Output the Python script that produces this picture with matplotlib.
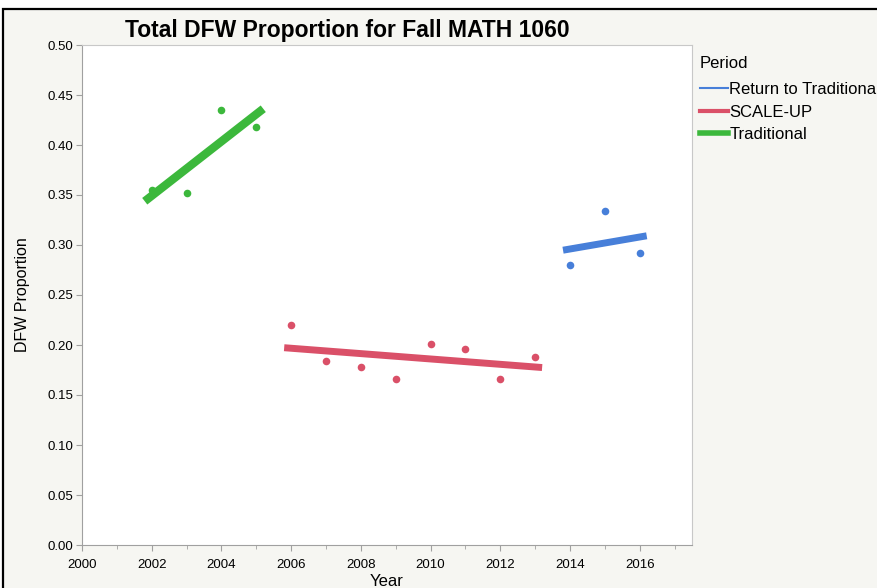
import numpy as np
import matplotlib.pyplot as plt
from matplotlib.patches import Rectangle
from matplotlib.lines import Line2D
from matplotlib.ticker import MultipleLocator, FormatStrFormatter

plt.rcParams['font.family'] = ['Liberation Sans', 'DejaVu Sans']

# data
trad_years = [2002, 2003, 2004, 2005]
trad_dfw = [0.355, 0.352, 0.435, 0.418]
scale_years = [2006, 2007, 2008, 2009, 2010, 2011, 2012, 2013]
scale_dfw = [0.220, 0.184, 0.178, 0.166, 0.201, 0.196, 0.166, 0.188]
ret_years = [2014, 2015, 2016]
ret_dfw = [0.280, 0.334, 0.292]

c_green = '#3cb83c'
c_red = '#da5068'
c_blue = '#477fd9'

fig = plt.figure(figsize=(8.77, 5.88), dpi=100, facecolor='white')
# panel background with black frame
fig.patches.append(Rectangle((3 / 877, -0.01), 1.0, (588 - 9) / 588 + 0.01,
                             transform=fig.transFigure, facecolor='#f6f6f2',
                             edgecolor='black', linewidth=1.6, zorder=-10))

ax = fig.add_axes([82 / 877, 1 - 545 / 588, 610 / 877, 500 / 588])
ax.set_facecolor('white')


def fit_line(years, vals, color, lw):
    k, b = np.polyfit(years, vals, 1)
    xs = np.array([min(years) - 0.2, max(years) + 0.2])
    ax.plot(xs, k * xs + b, color=color, linewidth=lw, solid_capstyle='butt', zorder=2)


ax.scatter(trad_years, trad_dfw, color=c_green, s=30, zorder=3, linewidths=0)
ax.scatter(scale_years, scale_dfw, color=c_red, s=30, zorder=3, linewidths=0)
ax.scatter(ret_years, ret_dfw, color=c_blue, s=30, zorder=3, linewidths=0)
fit_line(trad_years, trad_dfw, c_green, 6)
fit_line(scale_years, scale_dfw, c_red, 5)
fit_line(ret_years, ret_dfw, c_blue, 5)

ax.set_xlim(2000, 2017.5)
ax.set_ylim(0, 0.5)
ax.xaxis.set_major_locator(MultipleLocator(2))
ax.xaxis.set_minor_locator(MultipleLocator(1))
ax.yaxis.set_major_locator(MultipleLocator(0.05))
ax.yaxis.set_major_formatter(FormatStrFormatter('%.2f'))
ax.tick_params(axis='both', which='both', direction='out', color='#a0a0a0', labelsize=9.5)
ax.tick_params(axis='both', which='major', length=4)
ax.tick_params(axis='x', which='minor', length=3)
ax.tick_params(axis='x', pad=6)
ax.tick_params(axis='y', pad=2)
for s in ax.spines.values():
    s.set_color('#c8c8c8')
ax.spines['left'].set_color('#a0a0a0')
ax.spines['bottom'].set_color('#a0a0a0')

ax.set_xlabel('Year', fontsize=12, labelpad=2)
ax.set_ylabel('DFW Proportion', fontsize=11.5, labelpad=13)
fig.text(347 / 877, 1 - 30 / 588, 'Total DFW Proportion for Fall MATH 1060',
         ha='center', va='center', fontsize=16.5, fontweight='bold')

handles = [Line2D([], [], color=c_blue, linewidth=1.5),
           Line2D([], [], color=c_red, linewidth=3),
           Line2D([], [], color=c_green, linewidth=4)]
leg = fig.legend(handles, ['Return to Traditional', 'SCALE-UP', 'Traditional'],
                 title='Period', loc='upper left', bbox_to_anchor=(700 / 877, 1 - 56 / 588),
                 frameon=False, fontsize=12, title_fontsize=12, handlelength=1.7,
                 handletextpad=0.05, labelspacing=0.45, borderaxespad=0, borderpad=0)
leg._legend_box.align = 'left'
leg._legend_box.sep = 8

fig.savefig('out.png', dpi=100, facecolor=fig.get_facecolor())
